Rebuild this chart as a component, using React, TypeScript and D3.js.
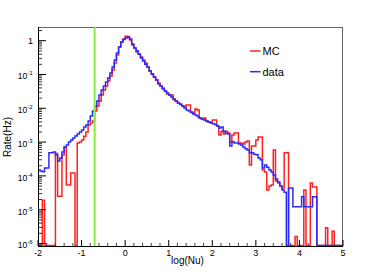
import React from 'react';
import * as d3 from 'd3';

// Histogram binning (log(Nu)), 140 bins of 0.05 from -2 to 5
const binStart = -2;
const binWidth = 0.05;

// Rate (Hz) per bin, data
const dataRate = [
  1.5e-4, 1.4e-4, 1.33e-4, 1.7e-4, 1.7e-4, 4.8e-4, 4.8e-4, 5.1e-4, 4.15e-4, 2.76e-4,
  3.4e-4, 5.1e-4, 7.2e-4, 8.2e-4, 1.0e-3, 1.15e-3, 1.32e-3, 1.51e-3, 1.74e-3, 1.99e-3,
  2.28e-3, 2.8e-3, 3.2e-3, 4.2e-3, 5.9e-3, 8.3e-3, 1.17e-2, 1.64e-2, 2.47e-2, 3.5e-2,
  4.6e-2, 6.0e-2, 7.9e-2, 0.111, 0.167, 0.27, 0.43, 0.65, 0.92, 1.09,
  1.2, 1.26, 1.12, 0.8, 0.61, 0.5, 0.4, 0.31, 0.25, 0.2,
  0.167, 0.127, 0.104, 0.084, 0.069, 0.052, 0.046, 0.037, 0.0325, 0.0284,
  0.0247, 0.0216, 0.0182, 0.0164, 0.0144, 0.0129, 0.0117, 0.0102, 0.0089, 0.0083,
  0.0075, 0.0068, 0.0063, 0.0057, 0.0052, 0.0048, 0.0045, 0.0042, 0.0039, 0.0037,
  0.0035, 0.0033, 0.0030, 0.0026, 0.0028, 0.0021, 0.00186, 0.00174, 0.00077, 0.00103,
  0.00094, 0.00094, 0.00088, 0.00082, 0.00072, 0.00063, 0.00058, 0.00048, 0.00048, 0.00044,
  0.00042, 0.00034, 0.00030, 0.00017, 0.00021, 0.00018, 0.00015, 0.00013, 0.000106, 0.000081,
  6.6e-5, 5.0e-5, 3.8e-5, 3.3e-5, 0, 4.4e-5, 4.4e-5, 1.23e-5, 1.23e-5, 1.23e-5,
  1.23e-5, 2.43e-5, 1.23e-5, 1.23e-5, 1.23e-5, 1.23e-5, 2.43e-5, 2.43e-5, 0, 0,
  0, 0, 0, 0, 0, 0, 0, 0, 0, 0,
];

// Rate (Hz) per bin, MC
const mcRate = [
  0, 0, 1.9e-5, 0, 0, 0, 0, 0, 4.6e-4, 2.5e-5,
  2.5e-5, 4.15e-4, 7.2e-4, 5.4e-5, 5.4e-5, 1.22e-4, 1.22e-4, 0, 9.4e-4, 1.0e-3,
  1.15e-3, 1.5e-3, 2.0e-3, 3.2e-3, 3.7e-3, 4.2e-3, 8.3e-3, 1.17e-2, 1.64e-2, 2.47e-2,
  3.5e-2, 4.6e-2, 6.4e-2, 9.0e-2, 0.136, 0.22, 0.38, 0.65, 0.92, 1.12,
  1.35, 1.33, 1.05, 0.75, 0.61, 0.46, 0.40, 0.33, 0.27, 0.22,
  0.167, 0.127, 0.104, 0.084, 0.069, 0.056, 0.046, 0.040, 0.0325, 0.0265,
  0.0247, 0.0247, 0.0188, 0.0164, 0.0144, 0.0134, 0.0117, 0.0109, 0.0125, 0.0125,
  0.0078, 0.0073, 0.0095, 0.0089, 0.0052, 0.0048, 0.0052, 0.0042, 0.0039, 0.0039,
  0.0045, 0.0045, 0.0030, 0.00162, 0.0021, 0.00174, 0.0021, 0.00186, 0.0010, 0.00162,
  0.00186, 0.00186, 0.00094, 0.00094, 0.00088, 0.0010, 0.00108, 0.00021, 0.00077, 0.00077,
  0.00115, 0.00142, 0.00142, 0.00015, 0.00013, 3.8e-5, 5.0e-5, 5.4e-5, 5.8e-4, 7.1e-5,
  6.2e-5, 5.0e-5, 4.4e-5, 4.8e-4, 4.8e-4, 0, 0, 0, 1.6e-6, 0,
  0, 0, 3.8e-5, 0, 0, 6.2e-5, 4.7e-5, 4.7e-5, 0, 0,
  0, 0, 2.9e-6, 0, 0, 2.3e-6, 0, 0, 0, 0,
];

const cutLogNu = -0.7;
const xTicks = [-2, -1, 0, 1, 2, 3, 4, 5];
const yDecades = [-6, -5, -4, -3, -2, -1, 0];
const legendItems = [
  { label: 'MC', color: '#ff2020' },
  { label: 'data', color: '#2a2aff' },
];

const FONT = "'Liberation Sans', Arial, Helvetica, sans-serif";

export default function App() {
  const L = 38, R = 343, T = 27, B = 246;
  const x = d3.scaleLinear().domain([-2, 5]).range([L, R]);
  const y = d3.scaleLog().domain([8.43e-7, 2.54]).range([B, T]);

  const histPath = (vals: number[]) => {
    const pts: [number, number][] = [];
    vals.forEach((v, i) => {
      const x0 = x(binStart + i * binWidth);
      const x1 = x(binStart + (i + 1) * binWidth);
      const yy = v > 0 ? y(v) : B - 0.5;
      pts.push([x0, yy], [x1, yy]);
    });
    return d3.line()(pts) as string;
  };

  const minorX = d3.range(-2, 5.001, 0.2).filter((v) => Math.abs(v - Math.round(v)) > 1e-6);
  const minorY: number[] = [];
  for (let e = -7; e <= 0; e++) {
    for (let m = 2; m <= 9; m++) {
      const v = m * Math.pow(10, e);
      if (v > y.domain()[0] && v < y.domain()[1]) minorY.push(v);
    }
  }

  return (
    <svg width={382} height={274} style={{ position: 'absolute', left: 0, top: 0, background: '#fff' }}
      fontFamily={FONT}>
      <rect x={0} y={0} width={382} height={274} fill="#fff" />
      <defs>
        <clipPath id="frame">
          <rect x={L} y={T} width={R - L} height={B - T + 0.5} />
        </clipPath>
      </defs>
      {/* frame */}
      <line x1={L} x2={R} y1={T + 0.5} y2={T + 0.5} stroke="#666" strokeWidth={1} />
      <line x1={R - 0.5} x2={R - 0.5} y1={T} y2={B} stroke="#666" strokeWidth={1} />

      <g clipPath="url(#frame)" fill="none" strokeWidth={1.5}>
        <path d={histPath(mcRate)} stroke={legendItems[0].color} />
        <path d={histPath(dataRate)} stroke={legendItems[1].color} />
      </g>
      <line x1={x(cutLogNu)} x2={x(cutLogNu)} y1={T} y2={B} stroke="#84ee3c" strokeWidth={2} />

      {/* axes */}
      <line x1={L} x2={R} y1={B + 0.5} y2={B + 0.5} stroke="#000" strokeWidth={1} />
      <line x1={L + 0.5} x2={L + 0.5} y1={T} y2={B + 1} stroke="#000" strokeWidth={1} />
      {xTicks.map((t) => (
        <g key={'xt' + t}>
          <line x1={x(t)} x2={x(t)} y1={B} y2={B - 6} stroke="#000" strokeWidth={1} />
          <text x={x(t)} y={256} fontSize={9} textAnchor="middle" fill="#000">{t}</text>
        </g>
      ))}
      {minorX.map((t) => (
        <line key={'xm' + t} x1={x(t)} x2={x(t)} y1={B} y2={B - 3} stroke="#444" strokeWidth={1} />
      ))}
      {yDecades.map((e) => (
        <g key={'yt' + e}>
          <line x1={L} x2={L + 8} y1={y(Math.pow(10, e))} y2={y(Math.pow(10, e))} stroke="#000" strokeWidth={1} />
          {e === 0 ? (
            <text x={33} y={y(1) + 3.3} fontSize={9} textAnchor="end" fill="#000">1</text>
          ) : (
            <text x={32.5} y={y(Math.pow(10, e)) + 5} fontSize={8.5} textAnchor="end" fill="#000">
              10<tspan dy={-4} fontSize={6}>{e}</tspan>
            </text>
          )}
        </g>
      ))}
      {minorY.map((v, i) => (
        <line key={'ym' + i} x1={L} x2={L + 4} y1={y(v)} y2={y(v)} stroke="#000" strokeWidth={0.8} />
      ))}

      {/* titles */}
      <text x={(L + R) / 2 - 3} y={264} fontSize={10} textAnchor="middle" fill="#000">log(Nu)</text>
      <text transform={`translate(10.5,137) rotate(-90)`} fontSize={10} textAnchor="middle" fill="#000">Rate(Hz)</text>

      {/* legend */}
      {legendItems.map((it, i) => (
        <g key={it.label}>
          <line x1={250} x2={260.5} y1={51 + i * 20.7} y2={51 + i * 20.7} stroke={it.color} strokeWidth={1.5} />
          <text x={262.5} y={55 + i * 20.7} fontSize={11} fill="#000">{it.label}</text>
        </g>
      ))}
    </svg>
  );
}
